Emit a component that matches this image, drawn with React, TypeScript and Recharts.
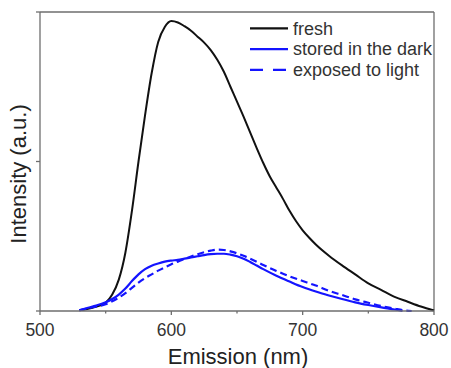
import { LineChart, Line, XAxis, YAxis, ReferenceLine, Legend } from 'recharts';

// emission spectra, intensity in arbitrary units (axis runs 0..2)
const freshPts = [
  { nm: 530, v: 0.005 }, { nm: 535, v: 0.012 }, { nm: 540, v: 0.022 }, { nm: 545, v: 0.035 },
  { nm: 550, v: 0.055 }, { nm: 555, v: 0.11 }, { nm: 560, v: 0.21 }, { nm: 565, v: 0.39 },
  { nm: 570, v: 0.67 }, { nm: 575, v: 1.0 }, { nm: 580, v: 1.31 }, { nm: 585, v: 1.59 },
  { nm: 590, v: 1.8 }, { nm: 595, v: 1.9 }, { nm: 600, v: 1.94 }, { nm: 605, v: 1.93 },
  { nm: 610, v: 1.905 }, { nm: 615, v: 1.875 }, { nm: 620, v: 1.835 }, { nm: 625, v: 1.795 },
  { nm: 630, v: 1.745 }, { nm: 635, v: 1.68 }, { nm: 640, v: 1.6 }, { nm: 645, v: 1.5 },
  { nm: 650, v: 1.4 }, { nm: 655, v: 1.3 }, { nm: 660, v: 1.195 }, { nm: 665, v: 1.09 },
  { nm: 670, v: 0.99 }, { nm: 675, v: 0.9 }, { nm: 680, v: 0.825 }, { nm: 685, v: 0.75 },
  { nm: 690, v: 0.67 }, { nm: 695, v: 0.6 }, { nm: 700, v: 0.54 }, { nm: 705, v: 0.49 },
  { nm: 710, v: 0.445 }, { nm: 720, v: 0.37 }, { nm: 730, v: 0.305 }, { nm: 740, v: 0.245 },
  { nm: 750, v: 0.185 }, { nm: 760, v: 0.14 }, { nm: 770, v: 0.095 }, { nm: 780, v: 0.062 },
  { nm: 790, v: 0.03 }, { nm: 800, v: 0.003 },
];

const darkPts = [
  { nm: 530, v: 0.005 }, { nm: 540, v: 0.03 }, { nm: 550, v: 0.058 }, { nm: 555, v: 0.08 },
  { nm: 560, v: 0.11 }, { nm: 565, v: 0.15 }, { nm: 570, v: 0.2 }, { nm: 575, v: 0.245 },
  { nm: 580, v: 0.28 }, { nm: 585, v: 0.303 }, { nm: 590, v: 0.318 }, { nm: 595, v: 0.33 },
  { nm: 600, v: 0.337 }, { nm: 605, v: 0.342 }, { nm: 610, v: 0.35 }, { nm: 615, v: 0.358 },
  { nm: 620, v: 0.366 }, { nm: 625, v: 0.374 }, { nm: 630, v: 0.38 }, { nm: 635, v: 0.383 },
  { nm: 640, v: 0.383 }, { nm: 645, v: 0.377 }, { nm: 650, v: 0.366 }, { nm: 655, v: 0.35 },
  { nm: 660, v: 0.328 }, { nm: 665, v: 0.304 }, { nm: 670, v: 0.28 }, { nm: 680, v: 0.236 },
  { nm: 690, v: 0.197 }, { nm: 700, v: 0.16 }, { nm: 710, v: 0.13 }, { nm: 720, v: 0.104 },
  { nm: 730, v: 0.08 }, { nm: 740, v: 0.058 }, { nm: 750, v: 0.04 }, { nm: 760, v: 0.024 },
  { nm: 770, v: 0.01 }, { nm: 776, v: 0.0 },
];

const lightPts = [
  { nm: 530, v: 0.005 }, { nm: 540, v: 0.025 }, { nm: 550, v: 0.045 }, { nm: 555, v: 0.065 },
  { nm: 560, v: 0.09 }, { nm: 565, v: 0.12 }, { nm: 570, v: 0.155 }, { nm: 575, v: 0.19 },
  { nm: 580, v: 0.22 }, { nm: 585, v: 0.245 }, { nm: 590, v: 0.27 }, { nm: 595, v: 0.292 },
  { nm: 600, v: 0.313 }, { nm: 605, v: 0.33 }, { nm: 610, v: 0.348 }, { nm: 615, v: 0.365 },
  { nm: 620, v: 0.38 }, { nm: 625, v: 0.393 }, { nm: 630, v: 0.404 }, { nm: 635, v: 0.41 },
  { nm: 640, v: 0.408 }, { nm: 645, v: 0.399 }, { nm: 650, v: 0.386 }, { nm: 655, v: 0.369 },
  { nm: 660, v: 0.35 }, { nm: 665, v: 0.33 }, { nm: 670, v: 0.308 }, { nm: 680, v: 0.268 },
  { nm: 690, v: 0.232 }, { nm: 700, v: 0.201 }, { nm: 710, v: 0.17 }, { nm: 720, v: 0.135 },
  { nm: 730, v: 0.107 }, { nm: 740, v: 0.078 }, { nm: 750, v: 0.055 }, { nm: 760, v: 0.033 },
  { nm: 770, v: 0.016 }, { nm: 778, v: 0.004 }, { nm: 783, v: 0.0 },
];

const xTicks = [500, 550, 600, 650, 700, 750, 800];
const xLabelled = [500, 600, 700, 800];
const yTicks = [0, 1, 2];

const series = [
  { name: 'fresh', color: '#111111', dash: undefined },
  { name: 'stored in the dark', color: '#1414ff', dash: undefined },
  { name: 'exposed to light', color: '#1414ff', dash: '13 10' },
];

const FONT = '"Liberation Sans", Arial, Helvetica, sans-serif';
const AXIS = '#6e6e6e';

function XTick({ x, y, payload }: any) {
  const major = xLabelled.includes(payload.value);
  return (
    <g>
      <line x1={x} x2={x} y1={y} y2={y + (major ? 4 : 2.5)} stroke={AXIS} strokeWidth={1.3} />
      {major && (
        <text x={x} y={y + 24.5} textAnchor="middle" fontSize={17.5} fontFamily={FONT} fill="#333">
          {payload.value}
        </text>
      )}
    </g>
  );
}

function LegendBox() {
  return (
    <svg width={200} height={80} style={{ display: 'block' }}>
      {series.map((s, i) => (
        <g key={s.name}>
          <line x1={5} x2={43} y1={18.3 + i * 20.8} y2={18.3 + i * 20.8} stroke={s.color} strokeWidth={2.2} strokeDasharray={s.dash} />
          <text x={48} y={24.5 + i * 20.8} fontSize={18} fontFamily={FONT} fill="#333">{s.name}</text>
        </g>
      ))}
    </svg>
  );
}

export default function App() {
  return (
    <div style={{ position: 'absolute', left: 0, top: 0, width: 451, height: 368, background: '#fff' }}>
      <LineChart width={451} height={368} margin={{ top: 12, right: 17, left: 0, bottom: 0 }}>
        <XAxis
          dataKey="nm"
          type="number"
          domain={[500, 800]}
          ticks={xTicks}
          height={57}
          stroke={AXIS}
          strokeWidth={1.3}
          tickLine={false}
          tickSize={0}
          tickMargin={0}
          tick={XTick}
          interval={0}
          allowDuplicatedCategory={false}
          label={{
            content: ({ viewBox }: any) => (
              <text x={viewBox.x + viewBox.width / 2 + 1} y={364} textAnchor="middle" fontSize={22} fontFamily={FONT} fill="#222">
                Emission (nm)
              </text>
            ),
          }}
        />
        <YAxis
          type="number"
          domain={[0, 2]}
          ticks={yTicks}
          width={40}
          stroke={AXIS}
          strokeWidth={1.3}
          tickSize={4}
          tick={() => <g />}
          label={{
            content: () => (
              <text transform="translate(26,174) rotate(-90)" textAnchor="middle" fontSize={22} fontFamily={FONT} fill="#222">
                Intensity (a.u.)
              </text>
            ),
          }}
        />
        <ReferenceLine y={2} stroke={AXIS} strokeWidth={1.6} />
        <ReferenceLine x={800} stroke={AXIS} strokeWidth={1.3} />
        <Legend
          layout="vertical"
          align="center"
          verticalAlign="middle"
          content={() => <LegendBox />}
          wrapperStyle={{ left: 245, top: 10, width: 200 }}
        />
        <Line data={freshPts} dataKey="v" name="fresh" type="monotone" stroke="#111111" strokeWidth={2} dot={false} isAnimationActive={false} />
        <Line data={darkPts} dataKey="v" name="stored in the dark" type="monotone" stroke="#1414ff" strokeWidth={2.2} dot={false} isAnimationActive={false} />
        <Line data={lightPts} dataKey="v" name="exposed to light" type="monotone" stroke="#1414ff" strokeWidth={2.2} strokeDasharray="7 4" dot={false} isAnimationActive={false} />
      </LineChart>
    </div>
  );
}
